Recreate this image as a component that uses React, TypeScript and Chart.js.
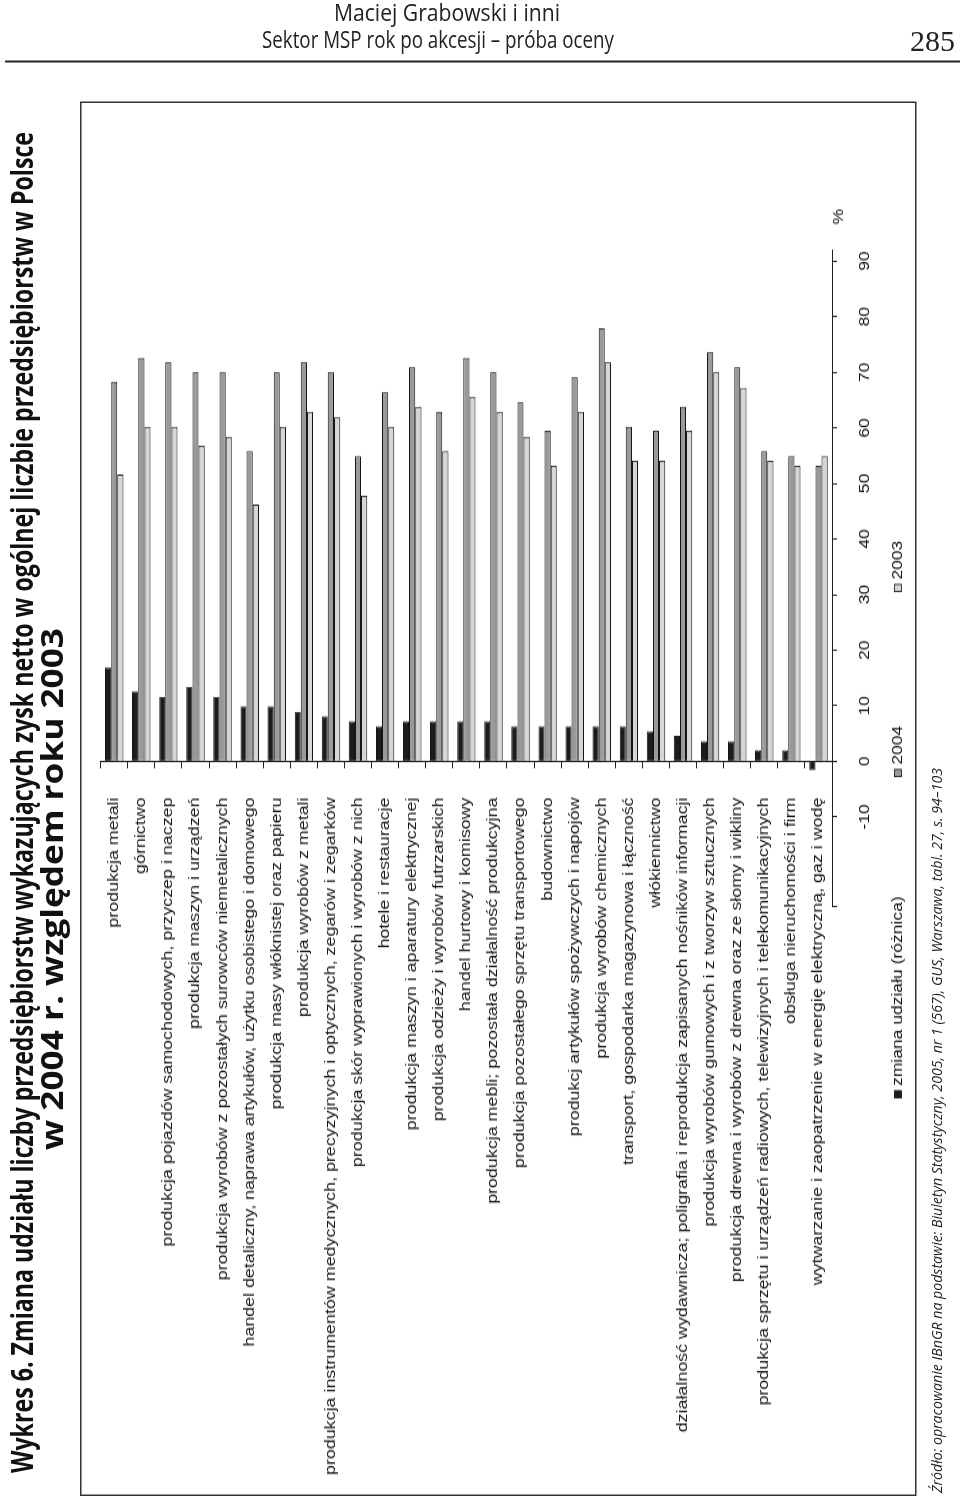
import React, { useEffect, useRef } from 'react';
import { Chart, registerables } from 'chart.js';

Chart.register(...registerables);

const categories = [
  'produkcja metali',
  'górnictwo',
  'produkcja pojazdów samochodowych, przyczep i naczep',
  'produkcja maszyn i urządzeń',
  'produkcja wyrobów z pozostałych surowców niemetalicznych',
  'handel detaliczny, naprawa artykułów, użytku osobistego i domowego',
  'produkcja masy włóknistej oraz papieru',
  'produkcja wyrobów z metali',
  'produkcja instrumentów medycznych, precyzyjnych i optycznych, zegarów i zegarków',
  'produkcja skór wyprawionych i wyrobów z nich',
  'hotele i restauracje',
  'produkcja maszyn i aparatury elektrycznej',
  'produkcja odzieży i wyrobów futrzarskich',
  'handel hurtowy i komisowy',
  'produkcja mebli; pozostała działalność produkcyjna',
  'produkcja pozostałego sprzętu transportowego',
  'budownictwo',
  'produkcj artykułów spożywczych i napojów',
  'produkcja wyrobów chemicznych',
  'transport, gospodarka magazynowa i łączność',
  'włókiennictwo',
  'działalność wydawnicza; poligrafia i reprodukcja zapisanych nośników informacji',
  'produkcja wyrobów gumowych i z tworzyw sztucznych',
  'produkcja drewna i wyrobów z drewna oraz ze słomy i wikliny',
  'produkcja sprzętu i urządzeń radiowych, telewizyjnych i telekomunikacyjnych',
  'obsługa nieruchomości i firm',
  'wytwarzanie i zaopatrzenie w energię elektryczną, gaz i wodę',
];

const shareChange = [
  16.9, 12.6, 11.6, 13.4, 11.6, 9.9, 9.9, 8.9, 8.1, 7.2, 6.3, 7.2, 7.2, 7.2,
  7.2, 6.3, 6.3, 6.3, 6.3, 6.3, 5.4, 4.6, 3.6, 3.6, 2.0, 2.0, -1.6,
];

const share2004 = [
  68.3, 72.6, 71.8, 70.0, 70.0, 55.8, 70.0, 71.8, 70.0, 54.9, 66.4, 70.9, 62.9,
  72.6, 70.0, 64.6, 59.5, 69.1, 77.9, 60.2, 59.5, 63.8, 73.6, 70.9, 55.8, 54.9,
  53.2,
];

const share2003 = [
  51.6, 60.2, 60.2, 56.8, 58.4, 46.2, 60.2, 62.9, 61.9, 47.8, 60.2, 63.8, 55.8,
  65.6, 62.9, 58.4, 53.2, 62.9, 71.8, 54.1, 54.1, 59.5, 70.0, 67.2, 54.1, 53.2,
  54.9,
];

const seriesNames = ['zmiana udziału (różnica)', '2004', '2003'];
const seriesColors = ['#1c1c1c', '#9a9a9a', '#d6d6d6'];

const valueTicks = [-10, 0, 10, 20, 30, 40, 50, 60, 70, 80, 90];
const axisMin = -26.2;
const axisMax = 92;
const labelAnchorValue = -6.5;

const BOX_W = 1394;
const BOX_H = 836;
const CANVAS_W = 1115;
const STRETCH = BOX_W / CANVAS_W;

const FONT = "'Liberation Sans', Arial, sans-serif";

const legendPositions = [318.5, 575.5, 723.5];

const extrasPlugin = {
  id: 'extras',
  afterDraw(chart: any) {
    const ctx = chart.ctx;
    const cy = 818;
    ctx.save();
    ctx.font = `14px ${FONT}`;
    ctx.textBaseline = 'middle';
    ctx.textAlign = 'left';
    chart.data.datasets.forEach((ds: any, i: number) => {
      const x = legendPositions[i];
      ctx.fillStyle = ds.backgroundColor;
      ctx.fillRect(x, cy - 3.5, 5.6, 7);
      ctx.strokeStyle = '#111';
      ctx.lineWidth = 0.8;
      ctx.strokeRect(x, cy - 3.5, 5.6, 7);
      ctx.fillStyle = '#111';
      ctx.fillText(ds.label, x + 9.4, cy);
    });
    const area = chart.chartArea;
    ctx.textAlign = 'center';
    ctx.fillText('%', area.right + 26.5, area.bottom + 7);
    ctx.restore();
  },
};

export default function App() {
  const ref = useRef<HTMLCanvasElement>(null);

  useEffect(() => {
    if (!ref.current) return;
    const chart = new Chart(ref.current, {
      type: 'bar',
      data: {
        labels: categories,
        datasets: [shareChange, share2004, share2003].map((d, i) => ({
          label: seriesNames[i],
          data: d,
          backgroundColor: seriesColors[i],
          borderColor: '#151515',
          borderWidth: 1,
          categoryPercentage: 0.68,
          barPercentage: 1.0,
          xAxisID: 'x',
          yAxisID: 'y',
        })),
      },
      options: {
        indexAxis: 'y',
        animation: false,
        responsive: false,
        devicePixelRatio: 1,
        layout: {
          padding: { left: 0, right: CANVAS_W - 1246 / STRETCH, top: 20.7, bottom: 44 },
        },
        plugins: {
          legend: { display: false },
          tooltip: { enabled: false },
          title: { display: false },
        },
        scales: {
          x: {
            type: 'linear',
            position: 'bottom',
            min: axisMin,
            max: axisMax,
            afterBuildTicks: (scale: any) => {
              scale.ticks = [axisMin, ...valueTicks].map((v) => ({ value: v }));
            },
            afterFit: (scale: any) => {
              scale.height = 40;
            },
            ticks: {
              autoSkip: false,
              maxRotation: 0,
              minRotation: 0,
              padding: 19.6,
              color: '#111',
              font: { family: FONT, size: 14 },
              callback: (v: any) => (valueTicks.includes(Number(v)) ? String(v) : ''),
            },
            grid: {
              display: true,
              drawOnChartArea: false,
              drawTicks: true,
              tickLength: 5,
              color: '#222',
              lineWidth: 1,
            },
            border: { display: true, color: '#222', width: 1 },
          },
          y: {
            type: 'category',
            position: 'left',
            offset: true,
            afterFit: (scale: any) => {
              scale.width = 589 / STRETCH;
            },
            ticks: { display: false },
            grid: { display: false, drawTicks: false },
            border: { display: false },
          },
          yZero: {
            type: 'category',
            axis: 'y',
            labels: categories,
            position: { x: 0 },
            offset: true,
            afterFit: (scale: any) => {
              scale.width = 0;
            },
            ticks: { display: false },
            grid: {
              display: true,
              offset: true,
              drawOnChartArea: false,
              drawTicks: true,
              tickLength: 5,
              color: '#222',
              lineWidth: 1,
            },
            border: { display: true, color: '#222', width: 1 },
          },
          yLabels: {
            type: 'category',
            axis: 'y',
            labels: categories,
            position: { x: labelAnchorValue },
            offset: true,
            afterFit: (scale: any) => {
              scale.width = 0;
            },
            ticks: {
              display: true,
              autoSkip: false,
              padding: 0,
              color: '#151515',
              font: { family: FONT, size: 14.3 },
            },
            grid: { display: false, drawTicks: false },
            border: { display: false },
          },
        } as any,
      },
      plugins: [extrasPlugin],
    } as any);
    return () => chart.destroy();
  }, []);

  return (
    <div
      style={{
        position: 'absolute',
        left: 0,
        top: 0,
        width: 960,
        height: 1497,
        overflow: 'hidden',
        background: '#fff',
      }}
    >
      <div
        style={{
          position: 'absolute',
          left: 80,
          top: 1496,
          width: BOX_W,
          height: BOX_H,
          transform: 'rotate(-90deg)',
          transformOrigin: '0 0',
        }}
      >
        <div
          style={{
            width: CANVAS_W,
            height: BOX_H,
            transform: `scaleX(${STRETCH})`,
            transformOrigin: '0 0',
          }}
        >
          <canvas
            ref={ref}
            width={CANVAS_W}
            height={BOX_H}
            style={{ display: 'block', width: CANVAS_W, height: BOX_H }}
          />
        </div>
      </div>
      <svg
        width={960}
        height={1497}
        style={{ position: 'absolute', left: 0, top: 0, pointerEvents: 'none' }}
      >
        <text
          x={447}
          y={21}
          textAnchor="middle"
          fontFamily="'Open Sans', sans-serif"
          fontSize={23}
          fill="#222"
          textLength={226}
          lengthAdjust="spacingAndGlyphs"
        >
          Maciej Grabowski i inni
        </text>
        <text
          x={438}
          y={47.5}
          textAnchor="middle"
          fontFamily="'Open Sans', sans-serif"
          fontSize={23}
          fill="#222"
          textLength={352}
          lengthAdjust="spacingAndGlyphs"
        >
          Sektor MSP rok po akcesji – próba oceny
        </text>
        <text
          x={955}
          y={51}
          textAnchor="end"
          fontFamily="'Liberation Serif', serif"
          fontSize={30}
          fill="#222"
        >
          285
        </text>
        <line x1={5} y1={61.5} x2={960} y2={61.5} stroke="#222" strokeWidth={2} />
        <rect
          x={80.75}
          y={102.25}
          width={835}
          height={1393}
          fill="none"
          stroke="#333"
          strokeWidth={1.5}
        />
        <text
          transform="translate(33,1473) rotate(-90)"
          fontFamily="'Open Sans', sans-serif"
          fontWeight={700}
          fontSize={31}
          fill="#111"
          textLength={1341}
          lengthAdjust="spacingAndGlyphs"
        >
          Wykres 6. Zmiana udziału liczby przedsiębiorstw wykazujących zysk netto w ogólnej liczbie przedsiębiorstw w Polsce
        </text>
        <text
          transform="translate(63,1150) rotate(-90)"
          fontFamily="'Open Sans', sans-serif"
          fontWeight={700}
          fontSize={31}
          fill="#111"
          textLength={522}
          lengthAdjust="spacingAndGlyphs"
        >
          w 2004 r. względem roku 2003
        </text>
        <text
          transform="translate(942,1493) rotate(-90)"
          fontFamily="'Open Sans', sans-serif"
          fontStyle="italic"
          fontSize={15}
          fill="#222"
          textLength={725}
          lengthAdjust="spacingAndGlyphs"
        >
          Źródło: opracowanie IBnGR na podstawie: Biuletyn Statystyczny, 2005, nr 1 (567), GUS, Warszawa, tabl. 27, s. 94–103
        </text>
      </svg>
    </div>
  );
}
